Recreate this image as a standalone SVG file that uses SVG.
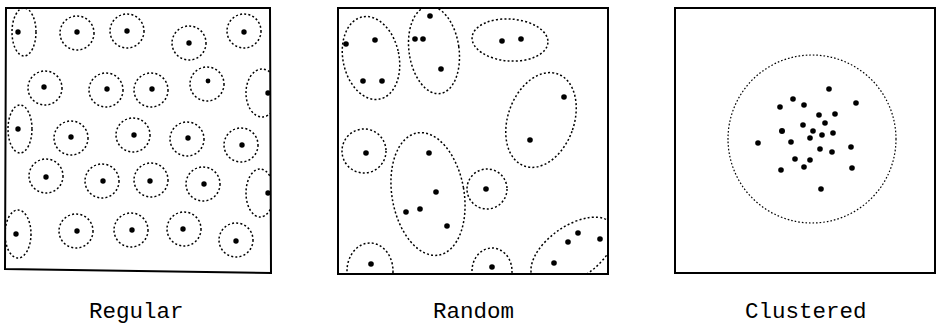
<svg xmlns="http://www.w3.org/2000/svg" width="937" height="325" viewBox="0 0 937 325">
<style>
.frame{fill:none;stroke:#000;stroke-width:2}
.ring{fill:none;stroke:#000;stroke-width:1.5;stroke-dasharray:2 2.2}
.ring2{fill:none;stroke:#000;stroke-width:1.2;stroke-dasharray:1.6 2}
.dot{fill:#000}
.lbl{font-family:"Liberation Mono","Courier New",monospace;font-size:22.5px;fill:#000}
</style>
<defs>
<clipPath id="c1"><polygon points="6,8 270,8 271,273 5,269"/></clipPath>
<clipPath id="c2"><rect x="338" y="8" width="270" height="266"/></clipPath>
</defs>
<rect width="937" height="325" fill="#fff"/>

<g id="regular">
<g clip-path="url(#c1)">
<ellipse class="ring" cx="24" cy="32" rx="12" ry="24"/>
<circle class="ring" cx="77" cy="33" r="17"/>
<circle class="ring" cx="127" cy="31" r="17"/>
<circle class="ring" cx="189" cy="43" r="17"/>
<circle class="ring" cx="244" cy="31" r="17"/>
<circle class="ring" cx="45" cy="88" r="17"/>
<circle class="ring" cx="106" cy="90" r="17"/>
<circle class="ring" cx="151" cy="90" r="17"/>
<circle class="ring" cx="207" cy="84" r="17"/>
<ellipse class="ring" cx="262" cy="93" rx="16" ry="24"/>
<ellipse class="ring" cx="20" cy="129" rx="12" ry="24"/>
<circle class="ring" cx="71" cy="138" r="17"/>
<circle class="ring" cx="133" cy="135" r="17"/>
<circle class="ring" cx="187" cy="139" r="17"/>
<circle class="ring" cx="241" cy="145" r="17"/>
<circle class="ring" cx="46" cy="176" r="17"/>
<circle class="ring" cx="102" cy="181" r="17"/>
<circle class="ring" cx="151" cy="180" r="17"/>
<circle class="ring" cx="203" cy="184" r="17"/>
<ellipse class="ring" cx="260" cy="193" rx="14" ry="24"/>
<ellipse class="ring" cx="18" cy="234" rx="13" ry="24"/>
<circle class="ring" cx="76" cy="231" r="17"/>
<circle class="ring" cx="131" cy="230" r="17"/>
<circle class="ring" cx="184" cy="229" r="17"/>
<circle class="ring" cx="236" cy="240" r="17"/>
<g class="dot">
<circle cx="18" cy="32" r="2.7"/><circle cx="77" cy="32" r="2.7"/><circle cx="127" cy="31" r="2.7"/><circle cx="189" cy="43" r="2.7"/><circle cx="244" cy="32" r="2.7"/>
<circle cx="44" cy="87" r="2.7"/><circle cx="107" cy="89" r="2.7"/><circle cx="152" cy="89" r="2.7"/><circle cx="208" cy="81" r="2.4"/><circle cx="268" cy="93" r="2.7"/>
<circle cx="18" cy="129" r="2.7"/><circle cx="71" cy="137" r="2.7"/><circle cx="134" cy="135" r="2.7"/><circle cx="188" cy="138" r="2.7"/><circle cx="242" cy="145" r="2.7"/>
<circle cx="46" cy="177" r="2.7"/><circle cx="103" cy="181" r="2.7"/><circle cx="150" cy="181" r="2.7"/><circle cx="204" cy="184" r="2.7"/><circle cx="268" cy="193" r="2.7"/>
<circle cx="16" cy="234" r="2.7"/><circle cx="77" cy="231" r="2.7"/><circle cx="132" cy="230" r="2.7"/><circle cx="183" cy="229" r="2.7"/><circle cx="236" cy="241" r="2.7"/>
</g>
</g>
<polygon class="frame" points="6,8 270,8 271,273 5,269"/>
</g>

<g id="random">
<g clip-path="url(#c2)">
<ellipse class="ring" cx="371" cy="58" rx="28" ry="42" transform="rotate(-12 371 58)"/>
<ellipse class="ring" cx="434" cy="50" rx="25" ry="44" transform="rotate(-8 434 50)"/>
<ellipse class="ring" cx="510" cy="40" rx="38" ry="21" transform="rotate(4 510 40)"/>
<ellipse class="ring" cx="541" cy="120" rx="33" ry="49" transform="rotate(20 541 120)"/>
<circle class="ring" cx="364" cy="151" r="22"/>
<ellipse class="ring" cx="428" cy="194" rx="36" ry="62" transform="rotate(-10 428 194)"/>
<circle class="ring" cx="487" cy="189" r="20"/>
<ellipse class="ring" cx="370" cy="271" rx="23" ry="28"/>
<ellipse class="ring" cx="492" cy="271" rx="20" ry="23"/>
<ellipse class="ring" cx="573" cy="252" rx="48" ry="26" transform="rotate(-35 573 252)"/>
<g class="dot">
<circle cx="346" cy="44" r="2.8"/><circle cx="375" cy="40" r="2.8"/><circle cx="363" cy="81" r="2.8"/><circle cx="382" cy="81" r="2.8"/>
<circle cx="430" cy="16" r="2.8"/><circle cx="415" cy="39" r="2.8"/><circle cx="423" cy="39" r="2.8"/><circle cx="441" cy="69" r="2.8"/>
<circle cx="502" cy="41" r="2.8"/><circle cx="521" cy="39" r="2.8"/>
<circle cx="564" cy="97" r="2.8"/><circle cx="530" cy="140" r="2.8"/>
<circle cx="366" cy="153" r="2.8"/>
<circle cx="429" cy="153" r="2.8"/><circle cx="436" cy="192" r="2.8"/><circle cx="406" cy="212" r="2.8"/><circle cx="420" cy="209" r="2.8"/><circle cx="447" cy="226" r="2.8"/>
<circle cx="486" cy="189" r="2.8"/>
<circle cx="371" cy="264" r="2.8"/>
<circle cx="492" cy="267" r="2.8"/>
<circle cx="578" cy="233" r="2.8"/><circle cx="568" cy="242" r="2.8"/><circle cx="600" cy="239" r="2.8"/><circle cx="554" cy="263" r="2.8"/>
</g>
</g>
<rect class="frame" x="338" y="8" width="270" height="266"/>
</g>

<g id="clustered">
<circle class="ring2" cx="812" cy="139" r="84"/>
<g class="dot">
<circle cx="829" cy="89" r="2.8"/><circle cx="793" cy="99" r="2.8"/><circle cx="780" cy="107" r="2.8"/><circle cx="804" cy="105" r="2.8"/><circle cx="856" cy="103" r="2.8"/>
<circle cx="819" cy="115" r="2.8"/><circle cx="835" cy="114" r="2.8"/><circle cx="825" cy="123" r="2.8"/><circle cx="803" cy="125" r="2.8"/><circle cx="782" cy="131" r="3"/>
<circle cx="813" cy="131" r="2.8"/><circle cx="810" cy="138" r="2.8"/><circle cx="822" cy="135" r="2.8"/><circle cx="833" cy="133" r="2.8"/><circle cx="758" cy="143" r="2.8"/>
<circle cx="791" cy="142" r="2.8"/><circle cx="820" cy="149" r="2.8"/><circle cx="851" cy="147" r="2.8"/><circle cx="832" cy="152" r="2.8"/><circle cx="795" cy="159" r="2.8"/>
<circle cx="810" cy="160" r="2.8"/><circle cx="781" cy="170" r="2.8"/><circle cx="804" cy="167" r="2.8"/><circle cx="852" cy="168" r="2.8"/><circle cx="821" cy="189" r="2.8"/>
</g>
<rect class="frame" x="675" y="8" width="260" height="265"/>
</g>

<g id="labels">
<text class="lbl" x="89" y="318">Regular</text>
<text class="lbl" x="433" y="318">Random</text>
<text class="lbl" x="745" y="318">Clustered</text>
</g>
</svg>
